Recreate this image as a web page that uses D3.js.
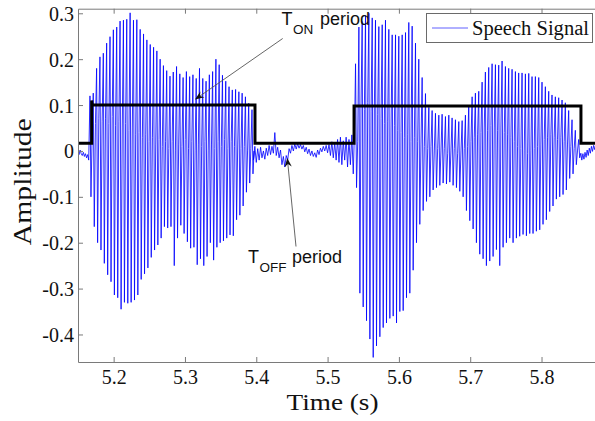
<!DOCTYPE html>
<html><head><meta charset="utf-8">
<script src="https://cdn.jsdelivr.net/npm/d3@7"></script>
<style>body{margin:0;background:#fff}</style>
</head><body>
<svg id="c" width="595" height="421"></svg>
<script>
// ---------- DATA ----------
const xDomain = [5.15, 5.875];
const yDomain = [-0.46, 0.31];
const xTicks = [5.2, 5.3, 5.4, 5.5, 5.6, 5.7, 5.8];
const xTickLabels = ["5.2","5.3","5.4","5.5","5.6","5.7","5.8"];
const yTicks = [0.3, 0.2, 0.1, 0, -0.1, -0.2, -0.3, -0.4];
const yTickLabels = ["0.3","0.2","0.1","0","-0.1","-0.2","-0.3","-0.4"];

// low-level signal before the first voiced segment
const preT = [5.1500,5.1515,5.1530,5.1545,5.1560,5.1575,5.1590,5.1605,5.1620,5.1635,5.1650];
const preV = [0.000,-0.008,0.002,-0.006,-0.010,-0.003,-0.012,-0.006,-0.015,-0.008,-0.020];

// voiced segment 1: pitch-cycle times, positive peaks, negative peaks, mid level
const seg1T = [5.1668,5.1714,5.1761,5.1808,5.1855,5.1902,5.1949,5.1996,5.2043,5.2090,
  5.2137,5.2184,5.2231,5.2278,5.2325,5.2372,5.2419,5.2466,5.2513,5.2560,
  5.2606,5.2652,5.2698,5.2744,5.2790,5.2836,5.2882,5.2928,5.2974,5.3020,
  5.3066,5.3112,5.3158,5.3204,5.3250,5.3296,5.3342,5.3388,5.3434,5.3480,
  5.3526,5.3572,5.3618,5.3664,5.3710,5.3756,5.3802,5.3848,5.3894,5.3940];
const seg1Hi = [0.12,0.126,0.18,0.205,0.213,0.235,0.249,0.264,0.27,0.283,
  0.285,0.287,0.301,0.285,0.286,0.265,0.255,0.242,0.232,0.226,
  0.218,0.2,0.186,0.175,0.163,0.172,0.184,0.168,0.16,0.173,
  0.162,0.166,0.158,0.18,0.158,0.152,0.166,0.173,0.2,0.188,
  0.165,0.152,0.14,0.133,0.134,0.129,0.126,0.118,0.104,0.09];
const seg1Lo = [-0.1,-0.165,-0.2,-0.216,-0.245,-0.27,-0.285,-0.314,-0.32,-0.345,
  -0.33,-0.332,-0.33,-0.325,-0.314,-0.28,-0.268,-0.255,-0.232,-0.216,
  -0.205,-0.19,-0.165,-0.168,-0.165,-0.25,-0.19,-0.162,-0.18,-0.198,
  -0.212,-0.21,-0.248,-0.235,-0.25,-0.23,-0.2,-0.238,-0.21,-0.2,
  -0.196,-0.19,-0.183,-0.185,-0.15,-0.14,-0.12,-0.09,-0.07,-0.05];
const seg1Mid = [0.03,0.06,0.07,0.065,0.07,0.06,0.075,0.055,0.065,0.05,
  0.06,0.045,0.05,0.035,0.04,0.03,0.035,0.02,0.03,0.015,
  0.025,0.01,0.02,0.005,0.02,0.0,0.015,0.01,0.025,0.005,
  0.02,0.0,0.015,0.01,0.02,0.0,0.015,0.005,0.02,0.01,
  0.025,0.005,0.02,0.01,0.015,0.005,0.01,0.0,0.005,0.0];

// pause (T_OFF) segment
const gapT = [5.396,5.398,5.400,5.402,5.404,5.406,5.408,5.410,5.412,5.414,
  5.416,5.418,5.420,5.422,5.424,5.426,5.428,5.430,5.432,5.434,
  5.436,5.438,5.440,5.442,5.444,5.446,5.448,5.450,5.452,5.454,
  5.456,5.458,5.460,5.462,5.464,5.466,5.468,5.470,5.472,5.474,
  5.476,5.478,5.480,5.482,5.484,5.486,5.488,5.490,5.492,5.494,
  5.496,5.498,5.500,5.502,5.504,5.506,5.508,5.510,5.512,5.514,
  5.516,5.518,5.520,5.522,5.524,5.526,5.528,5.530,5.532,5.534,
  5.536,5.538];
const gapV = [-0.02,0.01,-0.025,0.005,-0.02,0.008,-0.015,0.0,-0.018,0.006,
  -0.01,0.012,-0.008,0.01,-0.005,0.04,-0.01,0.008,-0.015,0.002,
  -0.03,-0.012,-0.035,-0.01,-0.02,0.005,-0.005,0.012,0.0,0.015,
  0.004,0.016,0.006,0.014,0.004,0.012,-0.002,0.008,-0.006,0.004,
  -0.01,0.0,-0.012,-0.004,-0.014,0.002,-0.008,0.006,-0.002,0.01,
  0.0,0.012,-0.004,0.014,-0.01,0.02,-0.015,0.018,-0.02,0.025,
  -0.025,0.03,-0.03,0.022,-0.02,0.03,-0.035,0.025,-0.03,0.035,
  -0.05,0.06];

// voiced segment 2
const seg2T = [5.5392,5.5439,5.5485,5.5532,5.5579,5.5626,5.5672,5.5719,5.5766,5.5812,
  5.5859,5.5906,5.5953,5.5999,5.6046,5.6093,5.6139,5.6186,5.6233,5.6279,
  5.6326,5.6373,5.6420,5.6466,5.6513,5.6560,5.6606,5.6653,5.6700,5.6746,
  5.6793,5.6840,5.6887,5.6933,5.6980,5.7027,5.7073,5.7120,5.7167,5.7213,
  5.7260,5.7307,5.7354,5.7400,5.7447,5.7494,5.7540,5.7587,5.7634,5.7680,
  5.7727,5.7774,5.7821,5.7867,5.7914,5.7961,5.8007,5.8054,5.8101,5.8147,
  5.8194,5.8241,5.8288,5.8334,5.8381,5.8428,5.8474,5.8521];
const seg2Hi = [0.19,0.27,0.282,0.295,0.3,0.29,0.285,0.271,0.275,0.285,
  0.265,0.253,0.253,0.25,0.253,0.258,0.28,0.272,0.235,0.2,
  0.16,0.125,0.095,0.088,0.082,0.078,0.08,0.075,0.078,0.072,
  0.068,0.064,0.066,0.078,0.1,0.118,0.126,0.13,0.15,0.172,
  0.182,0.19,0.188,0.187,0.196,0.184,0.18,0.178,0.173,0.17,
  0.17,0.168,0.169,0.162,0.162,0.16,0.15,0.14,0.13,0.122,
  0.118,0.116,0.111,0.105,0.088,0.068,0.045,0.025];
const seg2Lo = [-0.08,-0.31,-0.34,-0.37,-0.41,-0.45,-0.425,-0.405,-0.385,-0.375,
  -0.365,-0.36,-0.375,-0.35,-0.348,-0.32,-0.31,-0.26,-0.2,-0.16,
  -0.13,-0.11,-0.1,-0.085,-0.08,-0.075,-0.07,-0.072,-0.068,-0.075,
  -0.08,-0.088,-0.1,-0.13,-0.152,-0.17,-0.2,-0.225,-0.235,-0.25,
  -0.24,-0.23,-0.215,-0.25,-0.21,-0.2,-0.19,-0.2,-0.19,-0.186,
  -0.182,-0.185,-0.18,-0.18,-0.175,-0.172,-0.16,-0.15,-0.132,-0.12,
  -0.105,-0.1,-0.095,-0.085,-0.06,-0.05,-0.03,-0.015];
const seg2Mid = [0.02,0.1,0.09,0.105,0.085,0.095,0.08,0.07,0.06,0.065,
  0.05,0.055,0.045,0.04,0.03,0.035,0.02,0.03,0.02,0.015,
  0.01,0.005,0.01,0.0,0.005,0.0,0.005,-0.005,0.0,0.005,
  -0.005,0.0,0.005,0.01,0.02,0.03,0.035,0.04,0.05,0.045,
  0.055,0.05,0.045,0.05,0.04,0.035,0.03,0.02,0.01,0.005,
  0.0,-0.005,0.0,0.005,0.01,0.015,0.025,0.03,0.035,0.03,
  0.025,0.03,0.02,0.015,0.01,0.005,0.0,-0.005];

// tail after segment 2
const postT = [5.8565,5.8580,5.8595,5.8610,5.8625,5.8640,5.8655,5.8670,5.8685,5.8700,5.8715,5.8730,5.8745,5.8760];
const postV = [-0.02,-0.006,-0.018,-0.003,-0.014,0.002,-0.01,0.006,-0.005,0.01,-0.001,0.012,0.003,0.015];

// ON/OFF gate (black step line)
const gateT = [5.15,5.1692,5.1692,5.1699,5.3982,5.3982,5.5371,5.5371,5.8553,5.8553,5.875];
const gateV = [0.017,0.017,0.11,0.1,0.1,0.017,0.017,0.098,0.098,0.017,0.017];

// ---------- DRAW ----------
const svg = d3.select("#c");
const L = 78, R = 595, T = 8.7, B = 362;
const x = d3.scaleLinear().domain(xDomain).range([L, R]);
const y = d3.scaleLinear().domain(yDomain).range([B, T]);
const serif = "'Liberation Serif', 'Times New Roman', serif";

svg.append("rect").attr("width",595).attr("height",421).attr("fill","#fff");

svg.append("defs").append("clipPath").attr("id","clip")
  .append("rect").attr("x",L).attr("y",T).attr("width",R-L).attr("height",B-T);

function cyclePts(Ts, H, Lo, M) {
  const pts = [];
  for (let i = 0; i < Ts.length; i++) {
    const P = i < Ts.length - 1 ? Ts[i+1] - Ts[i] : Ts[i] - Ts[i-1];
    pts.push([Ts[i], H[i]], [Ts[i] + 0.3*P, Lo[i]], [Ts[i] + 0.65*P, M[i]]);
  }
  return pts;
}
const sig = [].concat(
  preT.map((t,i)=>[t, preV[i]]),
  cyclePts(seg1T, seg1Hi, seg1Lo, seg1Mid),
  gapT.map((t,i)=>[t, gapV[i]]),
  cyclePts(seg2T, seg2Hi, seg2Lo, seg2Mid),
  postT.map((t,i)=>[t, postV[i]])
);
const line = d3.line().x(d=>x(d[0])).y(d=>y(d[1]));

const plot = svg.append("g").attr("clip-path","url(#clip)");
plot.append("path").datum(sig).attr("d", line)
  .attr("fill","none").attr("stroke","#0000ff").attr("stroke-width",0.9)
  .attr("stroke-opacity",0.9).attr("stroke-linejoin","round");

plot.append("path").datum(gateT.map((t,i)=>[t, gateV[i]])).attr("d", line)
  .attr("fill","none").attr("stroke","#000").attr("stroke-width",3)
  .attr("stroke-linejoin","miter");

// axes
const axColor = "#7a7a7a";
const gB = svg.append("g").attr("transform",`translate(0,${B})`)
  .call(d3.axisBottom(x).tickValues(xTicks).tickFormat((d,i)=>xTickLabels[i])
    .tickSizeInner(-5).tickSizeOuter(0).tickPadding(8));
const gTop = svg.append("g").attr("transform",`translate(0,${T})`)
  .call(d3.axisTop(x).tickValues(xTicks).tickFormat("").tickSizeInner(-5).tickSizeOuter(0));
const gL = svg.append("g").attr("transform",`translate(${L},0)`)
  .call(d3.axisLeft(y).tickValues(yTicks).tickFormat((d,i)=>yTickLabels[i])
    .tickSizeInner(-5).tickSizeOuter(0).tickPadding(4));
[gB, gTop, gL].forEach(g=>{
  g.attr("font-family", serif).attr("font-size", 20);
  g.select(".domain").attr("stroke",axColor);
  g.selectAll(".tick line").attr("stroke",axColor);
  g.selectAll("text").attr("font-family", serif).attr("font-size",20).attr("fill","#111");
});
gL.selectAll("text").attr("dy","0.35em");

// axis titles
svg.append("text").attr("x",332.5).attr("y",410).attr("text-anchor","middle")
  .attr("font-family", serif).attr("font-size",23)
  .attr("textLength",92).attr("lengthAdjust","spacingAndGlyphs").attr("fill","#111")
  .text("Time (s)");
svg.append("text").attr("transform","translate(31,181.7) rotate(-90)").attr("text-anchor","middle")
  .attr("font-family", serif).attr("font-size",25)
  .attr("textLength",127).attr("lengthAdjust","spacingAndGlyphs").attr("fill","#111")
  .text("Amplitude");

// legend
const lg = svg.append("g");
lg.append("rect").attr("x",426.5).attr("y",13.5).attr("width",166).attr("height",29)
  .attr("fill","#fff").attr("stroke","#6a6a6a").attr("stroke-width",1);
lg.append("line").attr("x1",432).attr("x2",468).attr("y1",28).attr("y2",28)
  .attr("stroke","#6060ff").attr("stroke-width",1);
lg.append("text").attr("x",472).attr("y",35)
  .attr("font-family", serif).attr("font-size",20)
  .attr("textLength",117).attr("lengthAdjust","spacingAndGlyphs").attr("fill","#111")
  .text("Speech Signal");

// annotations
function arrow(x1,y1,x2,y2){
  const g = svg.append("g");
  const a = Math.atan2(y2-y1, x2-x1);
  const len = 9, w = 3.6, notch = 6;
  const bx = x2 - len*Math.cos(a), by = y2 - len*Math.sin(a);
  const nx = x2 - notch*Math.cos(a), ny = y2 - notch*Math.sin(a);
  const px = -Math.sin(a), py = Math.cos(a);
  g.append("line").attr("x1",x1).attr("y1",y1).attr("x2",nx).attr("y2",ny)
    .attr("stroke","#555").attr("stroke-width",0.9);
  g.append("path").attr("d",`M${x2},${y2}L${bx+px*w},${by+py*w}L${nx},${ny}L${bx-px*w},${by-py*w}Z`)
    .attr("fill","#111");
}
arrow(282.7, 38.5, 195, 99.5);
arrow(296, 246.5, 287.3, 158);

function label(xT, yT, sub, xSub, xP){
  const t = svg.append("text").attr("font-family","'Liberation Sans', Arial, sans-serif")
    .attr("fill","#111");
  t.append("tspan").attr("x",xT).attr("y",yT).attr("font-size",18).text("T");
  t.append("tspan").attr("x",xSub).attr("y",yT+8.5).attr("font-size",13.5).text(sub);
  t.append("tspan").attr("x",xP).attr("y",yT).attr("font-size",18).text("period");
}
label(281.5, 25, "ON", 293, 320);
label(248, 263, "OFF", 259.5, 292);
</script>
</body></html>
